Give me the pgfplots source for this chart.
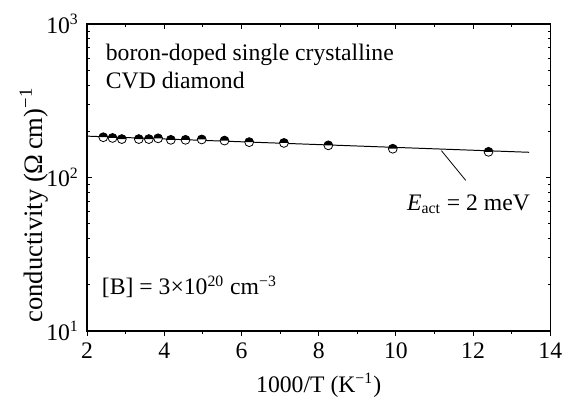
\documentclass[border=0pt,12pt]{standalone}
\usepackage{fontspec}
\setmainfont{Liberation Serif}
\usepackage{pgfplots}
\pgfplotsset{compat=1.18}
\pgfdeclareplotmark{halfblack}{%
  \pgfpathcircle{\pgfpointorigin}{\pgfplotmarksize}%
  \pgfsetfillcolor{white}\pgfusepathqfill
  \pgfpathmoveto{\pgfqpoint{\pgfplotmarksize}{0pt}}%
  \pgfpatharc{0}{180}{\pgfplotmarksize}%
  \pgfpathclose
  \pgfsetfillcolor{black}\pgfusepathqfill
  \pgfpathcircle{\pgfpointorigin}{\pgfplotmarksize}%
  \pgfusepathqstroke
}
\begin{document}
\begin{tikzpicture}
\begin{axis}[name=ax,
  scale only axis, width=234.85pt, height=155.7pt,
  xmin=2, xmax=14, ymode=log, ymin=10, ymax=1000,
  xtick={2,4,...,14}, minor x tick num=1,
  ytick={10,100,1000},
  yticklabels={10\textsuperscript{1},10\textsuperscript{2},10\textsuperscript{3}},
  /pgf/number format/assume math mode=true,
  tick align=inside, xtick pos=right, xticklabel pos=left,
  ytick pos=both,
  major tick length=2.4pt, minor tick length=1.4pt,
  axis line style={line width=0.6pt},
  every tick/.style={black, line width=0.45pt},
  xticklabel style={yshift=-1.6pt},
  clip=false,
  xlabel={1000/T (K\textsuperscript{−1})},
  ylabel={conductivity (Ω\,cm)\textsuperscript{−1}},
  every axis x label/.style={at={(axis description cs:0.5,-0.2)}, anchor=base},
  every axis y label/.style={at={(axis description cs:-0.097,0.41)}, anchor=base, rotate=90, font=\fontsize{13.5}{16}\selectfont},
]
\addplot[black, line width=0.5pt] coordinates {(2,186) (13.45,146)};
\addplot[only marks, mark=halfblack, mark size=2.25pt,
  mark options={draw=black, line width=0.4pt}] coordinates {
  (2.42,183) (2.66,181) (2.90,178) (3.34,178) (3.60,178) (3.84,180)
  (4.17,176) (4.55,176) (4.97,177) (5.56,174) (6.20,170) (7.10,168)
  (8.25,162) (9.92,154) (12.40,147)
};
\draw[line width=0.4pt] (axis cs:11.18,149.6) -- (axis cs:11.81,95.8);
\node[anchor=base west, inner sep=0pt] at (axis cs:2.477,575) {boron-doped single crystalline};
\node[anchor=base west, inner sep=0pt] at (axis cs:2.477,378) {CVD diamond};
\node[anchor=base west, inner sep=0pt] at (axis cs:10.283,61.4) {\textit{E}\textsubscript{act} = 2 meV};
\node[anchor=base west, inner sep=0pt] at (axis cs:2.375,17.21) {[B] = 3×10\textsuperscript{20} cm\textsuperscript{−3}};
\end{axis}
\begin{axis}[
  scale only axis, width=234.85pt, height=155.7pt,
  xmin=2, xmax=14, ymode=log, ymin=10, ymax=1000,
  axis x line*=bottom, axis y line=none,
  xtick={2,4,...,14}, minor x tick num=1, xticklabels={},
  tick align=outside,
  major tick length=2.4pt, minor tick length=1.4pt,
  axis line style={line width=0.6pt, -},
  every tick/.style={black, line width=0.45pt},
]
\end{axis}
\path ([shift={(-44.15pt,-33.65pt)}]ax.south west) rectangle ([shift={(240.85pt,167.85pt)}]ax.south west);
\end{tikzpicture}
\end{document}
